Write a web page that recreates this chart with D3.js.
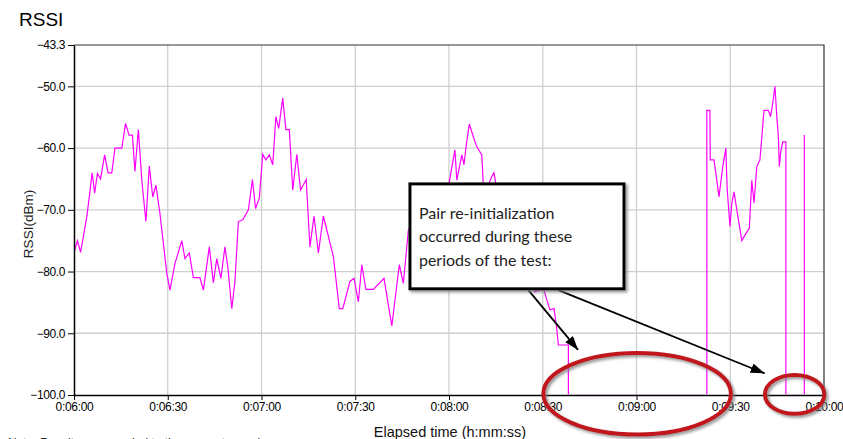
<!DOCTYPE html>
<html>
<head>
<meta charset="utf-8">
<script src="https://cdn.jsdelivr.net/npm/d3@7"></script>
<style>
  html, body { margin: 0; padding: 0; background: #ffffff; }
  svg { display: block; }
</style>
</head>
<body>
<svg id="chart" width="843" height="439"></svg>
<script>
// Elapsed time of each RSSI sample, in seconds
const elapsedSeconds = [
  360.0, 361.1, 362.1, 362.8, 364.1, 364.9, 365.8, 366.6, 367.5, 368.5,
  369.8, 370.9, 372.1, 373.1, 375.3, 376.5, 377.6, 378.7, 379.5, 380.6,
  381.7, 383.0, 384.1, 385.2, 386.2, 387.5, 389.7, 390.7, 392.3, 394.5,
  395.5, 396.9, 398.2, 400.3, 401.4, 403.3, 404.6, 405.7, 407.0, 408.3,
  409.2, 410.5, 411.5, 412.6, 414.0, 415.8, 417.1, 418.1, 419.3, 420.4,
  421.4, 422.5, 423.6, 424.6, 425.5, 426.8, 427.8, 428.9, 430.0, 431.3,
  432.5, 434.3, 435.5, 436.8, 438.2, 439.8, 443.0, 444.9, 446.0, 448.3,
  449.6, 451.0, 452.1, 453.4, 455.8, 459.2, 461.7, 464.1, 465.4, 467.0,
  470.7, 474.6, 477.8, 479.8, 481.9, 482.5, 484.1, 484.8, 485.4, 486.5,
  487.8, 488.9, 490.5, 491.0, 492.5, 493.7, 494.4, 495.4, 497.9, 500.2,
  502.7, 505.3, 507.5, 509.1, 510.1, 511.3, 512.3, 513.6, 514.4, 515.0,
  518.2, 518.2, 562.5, 562.5, 563.5, 563.6, 564.8, 565.4, 566.4, 567.6,
  568.6, 569.0, 569.9, 570.5, 571.2, 572.1, 573.7, 574.7, 576.1, 576.9,
  577.6, 578.5, 579.5, 580.1, 580.8, 582.2, 582.9, 583.6, 584.3, 584.9,
  585.4, 585.7, 586.1, 586.8, 587.8, 587.8, 593.7, 593.7, 593.7
];

// Received signal strength of each sample, in dBm
const rssiDbm = [
  -76.9, -75.0, -76.9, -74.9, -71.1, -67.9, -64.0, -67.3, -64.1, -65.0,
  -61.1, -64.0, -64.0, -60.0, -60.0, -56.0, -57.9, -57.9, -63.8, -57.0,
  -65.2, -71.9, -62.9, -67.9, -66.0, -70.6, -80.3, -83.0, -78.7, -75.0,
  -77.9, -77.0, -81.0, -81.0, -83.0, -76.0, -81.8, -77.9, -81.1, -76.0,
  -79.2, -86.0, -81.6, -71.9, -71.6, -70.0, -65.1, -69.8, -68.1, -61.0,
  -61.9, -61.1, -62.7, -54.9, -56.8, -51.9, -57.0, -57.0, -66.8, -61.0,
  -66.8, -65.1, -76.0, -71.0, -77.0, -71.0, -77.6, -86.0, -86.0, -81.6,
  -81.1, -84.9, -78.9, -82.9, -82.9, -81.1, -88.8, -78.9, -81.9, -73.3,
  -70.0, -67.0, -69.0, -66.3, -60.3, -65.2, -61.1, -62.7, -60.0, -56.1,
  -58.2, -59.8, -61.1, -66.1, -66.0, -64.6, -64.0, -67.0, -71.0, -75.0,
  -78.0, -81.0, -83.3, -83.0, -82.5, -84.6, -86.2, -86.0, -88.9, -91.9,
  -91.9, -100, -100, -53.9, -53.9, -61.9, -61.9, -64.1, -67.9, -63.0,
  -60.0, -66.5, -72.7, -68.9, -67.1, -70.0, -75.0, -74.1, -73.0, -65.2,
  -68.9, -63.0, -61.9, -58.2, -53.9, -53.9, -54.9, -52.7, -50.0, -54.9,
  -58.2, -63.0, -60.8, -59.0, -59.0, -100, -100, -57.9, -100
];

// Axis ticks
const yTickValues = [-43.3, -50, -60, -70, -80, -90, -100];
const xTickSeconds = [360, 390, 420, 450, 480, 510, 540, 570, 600];

// Texts
const chartTitle = "RSSI";
const yAxisTitle = "RSSI(dBm)";
const xAxisTitle = "Elapsed time (h:mm:ss)";
const footNote = "Note: Results are rounded to the nearest sample";
const calloutLines = ["Pair re-initialization", "occurred during these", "periods of the test:"];

// Re-initialization periods circled on the chart: [centre s, centre dBm, half-width s, half-height dBm]
const reinitPeriods = [
  [540.2, -99.8, 30.0, 6.6],
  [590.6, -99.9, 9.5, 3.15]
];
// Callout box corners [s, dBm] and arrows from box to periods [from s, from dBm, to s, to dBm]
const calloutBox = [467.5, -65.8, 536.0, -82.8];
const calloutArrows = [
  [505.4, -83.0, 521.3, -92.7],
  [515.0, -83.0, 581.0, -96.5]
];

const svg = d3.select("#chart");
const margin = { left: 74, right: 19, top: 45, bottom: 44 };
const W = 843, H = 439;

const x = d3.scaleLinear().domain([360, 600]).range([margin.left, W - margin.right]);
const y = d3.scaleLinear().domain([-100, -43.3]).range([H - margin.bottom, margin.top]);

const fmtTime = s => {
  const h = Math.floor(s / 3600), m = Math.floor((s % 3600) / 60), sec = Math.round(s % 60);
  return `${h}:${String(m).padStart(2, "0")}:${String(sec).padStart(2, "0")}`;
};

const chartFont = "'Liberation Sans', Arial, sans-serif";

const defs = svg.append("defs");
const shadow = defs.append("filter").attr("id", "shadow")
  .attr("x", "-20%").attr("y", "-20%").attr("width", "140%").attr("height", "140%");
shadow.append("feDropShadow").attr("dx", 2).attr("dy", 2)
  .attr("stdDeviation", 1.5).attr("flood-color", "#777").attr("flood-opacity", 0.8);

defs.append("marker").attr("id", "arrowhead")
  .attr("markerUnits", "userSpaceOnUse")
  .attr("viewBox", "0 0 14 10").attr("refX", 14).attr("refY", 5)
  .attr("markerWidth", 14).attr("markerHeight", 10)
  .attr("orient", "auto")
  .append("path").attr("d", "M0,0 L14,5 L0,10 Z").attr("fill", "#000");

// The trace sits above the bottom axis line, which hides samples at the floor value
defs.append("clipPath").attr("id", "plot-clip")
  .append("rect")
  .attr("x", x(360)).attr("y", y(-43.3))
  .attr("width", x(600) - x(360)).attr("height", y(-100) - y(-43.3) - 0.7);

// Grid
const grid = svg.append("g");
grid.selectAll("line.v").data(xTickSeconds.slice(1, -1)).join("line")
  .attr("x1", d => x(d)).attr("x2", d => x(d))
  .attr("y1", y(-43.3)).attr("y2", y(-100))
  .attr("stroke", "#cfcfcf").attr("stroke-width", 1.3);
grid.selectAll("line.h").data(yTickValues.slice(1, -1)).join("line")
  .attr("y1", d => y(d)).attr("y2", d => y(d))
  .attr("x1", x(360)).attr("x2", x(600))
  .attr("stroke", "#cfcfcf").attr("stroke-width", 1.3);

// RSSI trace
const samples = elapsedSeconds.map((t, i) => [t, rssiDbm[i]]);
svg.append("path")
  .datum(samples)
  .attr("clip-path", "url(#plot-clip)")
  .attr("fill", "none")
  .attr("stroke", "#ff00ff")
  .attr("stroke-width", 1.2)
  .attr("d", d3.line().x(d => x(d[0])).y(d => y(d[1])));

// Frame (top and right)
svg.append("path")
  .attr("d", `M${x(360)},${y(-43.3)} H${x(600)} V${y(-100)}`)
  .attr("fill", "none").attr("stroke", "#333").attr("stroke-width", 1.2);

// Axes
const yAxis = svg.append("g")
  .attr("transform", `translate(${x(360)},0)`)
  .call(d3.axisLeft(y).tickValues(yTickValues).tickFormat(d3.format(".1f")).tickSizeInner(6).tickSizeOuter(0).tickPadding(3));
const xAxis = svg.append("g")
  .attr("transform", `translate(0,${y(-100)})`)
  .call(d3.axisBottom(x).tickValues(xTickSeconds).tickFormat(fmtTime).tickSizeInner(5).tickSizeOuter(0).tickPadding(2));
[yAxis, xAxis].forEach(g => {
  g.select(".domain").attr("stroke", "#000").attr("stroke-width", 1.5);
  g.selectAll(".tick line").attr("stroke", "#000");
  g.selectAll(".tick text").attr("fill", "#000")
    .style("font-family", chartFont).style("font-size", "12px");
});
yAxis.selectAll(".tick text").attr("letter-spacing", "-0.4px");
xAxis.selectAll(".tick text").attr("letter-spacing", "-0.3px");

// Titles
svg.append("text").attr("x", 19).attr("y", 26).text(chartTitle)
  .style("font-family", chartFont).style("font-size", "19px").attr("fill", "#000");
svg.append("text")
  .attr("transform", `translate(33,${(y(-43.3) + y(-100)) / 2 + 4}) rotate(-90)`)
  .attr("text-anchor", "middle").text(yAxisTitle)
  .style("font-family", chartFont).style("font-size", "13.5px").attr("fill", "#222");
svg.append("text")
  .attr("x", 450).attr("y", 437).attr("text-anchor", "middle").text(xAxisTitle)
  .style("font-family", chartFont).style("font-size", "14.5px").attr("fill", "#111");
svg.append("text").attr("x", 8).attr("y", 447).text(footNote)
  .style("font-family", chartFont).style("font-size", "12px").attr("fill", "#222");

// Callout box and arrows
svg.selectAll("line.arrow").data(calloutArrows).join("line")
  .attr("x1", d => x(d[0])).attr("y1", d => y(d[1]))
  .attr("x2", d => x(d[2])).attr("y2", d => y(d[3]))
  .attr("stroke", "#000").attr("stroke-width", 1.8)
  .attr("marker-end", "url(#arrowhead)");

const bx0 = x(calloutBox[0]), by0 = y(calloutBox[1]);
const bx1 = x(calloutBox[2]), by1 = y(calloutBox[3]);
svg.append("rect")
  .attr("x", bx0).attr("y", by0).attr("width", bx1 - bx0).attr("height", by1 - by0)
  .attr("fill", "#fff").attr("stroke", "#000").attr("stroke-width", 3)
  .attr("filter", "url(#shadow)");
svg.append("g").selectAll("text").data(calloutLines).join("text")
  .attr("x", bx0 + 9).attr("y", (d, i) => by0 + 35 + i * 23.4)
  .text(d => d)
  .style("font-family", "Lato, 'Open Sans', sans-serif").style("font-size", "16px")
  .attr("fill", "#222");

// Circled re-initialization periods
svg.selectAll("ellipse.period").data(reinitPeriods).join("ellipse")
  .attr("cx", d => x(d[0])).attr("cy", d => y(d[1]))
  .attr("rx", d => x(d[0] + d[2]) - x(d[0]))
  .attr("ry", d => y(d[1] - d[3]) - y(d[1]))
  .attr("fill", "none").attr("stroke", "#c0161f").attr("stroke-width", 4)
  .attr("filter", "url(#shadow)");
</script>
</body>
</html>
